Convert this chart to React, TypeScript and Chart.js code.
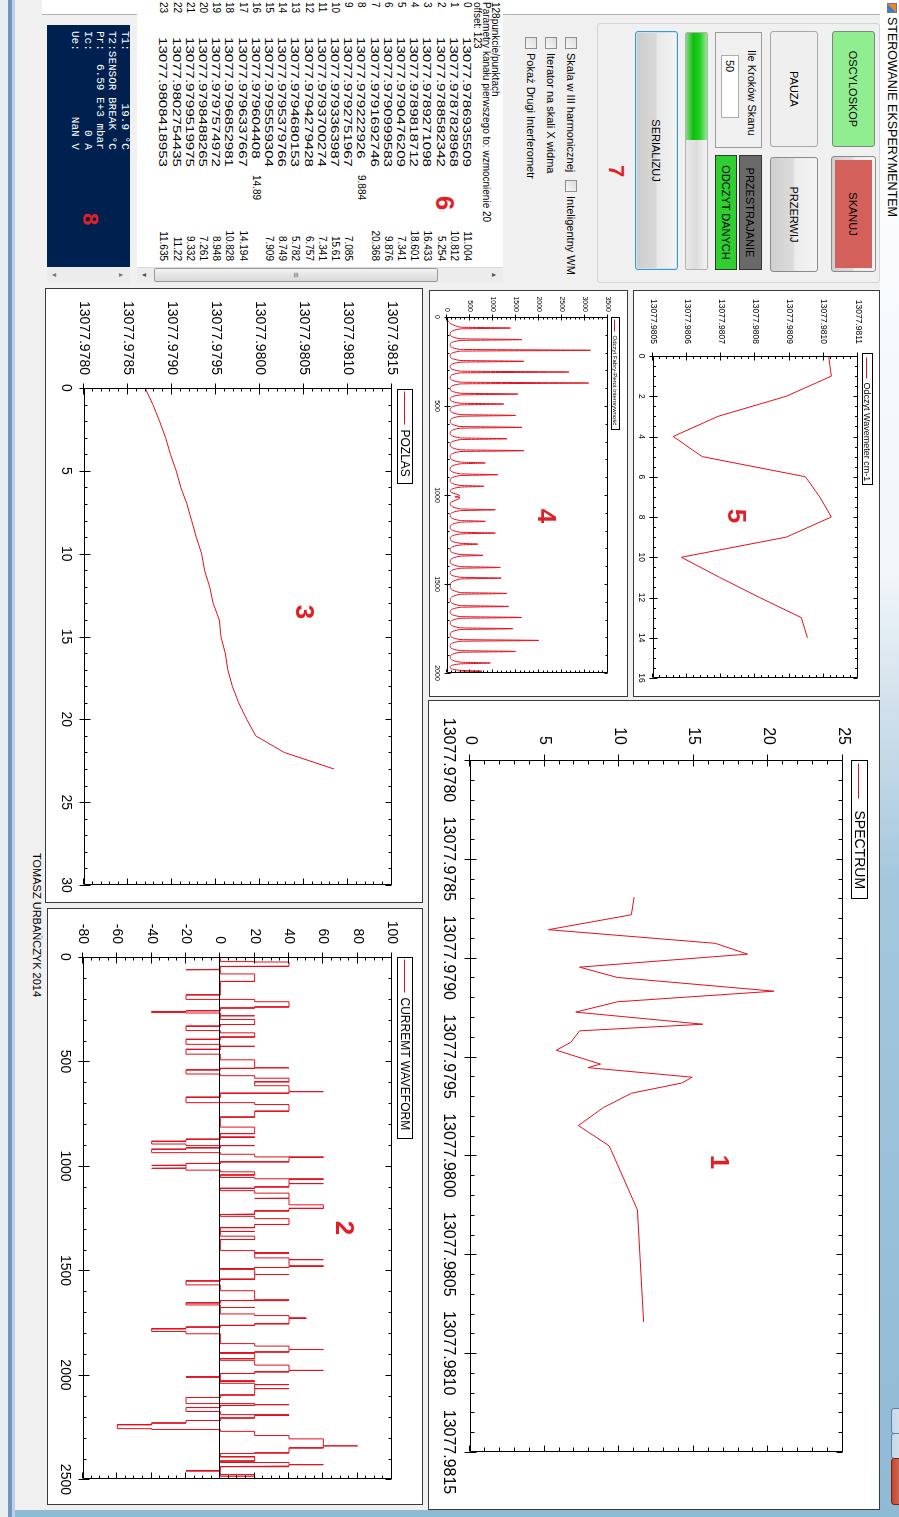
import React, { useEffect, useRef } from 'react';
import { Chart, registerables } from 'chart.js';
Chart.register(...registerables);

const FONT = '"Liberation Sans", Arial, sans-serif';
const MONO = '"Liberation Mono", "DejaVu Sans Mono", monospace';
const LINE_COLOR = '#e3101e';

// ---------------- data ----------------
const WAVENUMBERS = [
  13077.9786935509, 13077.9787828968, 13077.9788582342, 13077.9789271098, 13077.9789818712,
  13077.9790476209, 13077.9790999583, 13077.9791692746, 13077.979222926, 13077.9792751967,
  13077.9793363987, 13077.9793700274, 13077.9794279428, 13077.9794680153, 13077.9795379766,
  13077.9795559304, 13077.979604408, 13077.9796337667, 13077.9796852981, 13077.9797574972,
  13077.9798488265, 13077.9799519975, 13077.9802754435, 13077.9808418953,
];
const INTENSITY = [
  11.004, 10.812, 5.254, 16.433, 18.601, 7.341, 9.876, 20.368, 9.884, 7.085,
  15.61, 7.341, 6.757, 5.782, 8.749, 7.909, 14.89, 14.194, 10.828, 8.948,
  7.261, 9.332, 11.22, 11.635,
];
const WM_VALUES = [
  13077.981014, 13077.981022, 13077.98089, 13077.98069, 13077.980559, 13077.980644,
  13077.980946, 13077.980988, 13077.981022, 13077.98089, 13077.980583, 13077.980695,
  13077.980812, 13077.980934, 13077.980952,
];
const FP_PEAK_X = [62, 127, 187, 249, 309, 371, 433, 489, 553, 620, 684, 751, 820, 886, 951, 1010,
  1083, 1148, 1214, 1276, 1339, 1407, 1467, 1553, 1626, 1688, 1751, 1817, 1879, 1944, 1990];
const FP_PEAK_Y = [1380, 1630, 3120, 1670, 2650, 3080, 1545, 1234, 1490, 1630, 1306, 1670, 835, 1110, 800, 170,
  1050, 835, 1050, 670, 780, 1160, 1180, 1306, 1340, 1620, 1430, 1995, 1490, 940, 760];
const FP_VALLEY_X = [95, 157, 218, 279, 340, 402, 461, 521, 586, 652, 717, 785, 853, 918, 980,
  1046, 1115, 1181, 1245, 1307, 1373, 1437, 1510, 1590, 1657, 1719, 1784, 1848, 1911, 1967];
const FP_FLOOR = 70;
const FP_SHOULDER = 280;
const FP_HALF = 5;

// [sample, level] : the waveform steps to "level" at "sample"
const CURRENT_STEPS: [number, number][] = [
  [0, 0], [22, 20], [24, 40], [42, 40], [44, 20], [46, 0], [59, -20], [62, 0], [81, 20], [117, 0],
  [181, -20], [201, 0], [204, 20], [214, 40], [239, 20], [244, 0], [257, -20], [261, -40], [266, -20], [268, 0],
  [280, 20], [282, 0], [299, 20], [323, 0], [331, -20], [352, 0], [363, 20], [383, 0], [394, -20], [418, 0],
  [426, 20], [428, 0], [442, -20], [465, 0], [492, 20], [529, 40], [531, 20], [533, 0], [540, -20], [560, 0],
  [568, 20], [580, 40], [597, 20], [616, 40], [643, 60], [645, 40], [652, 0], [671, -20], [695, 0],
  [698, 20], [706, 40], [736, 40], [738, 20], [766, 0], [814, 20], [845, 0], [861, 20], [863, 0],
  [872, -20], [882, -40], [895, -20], [901, 0], [902, 20], [904, 0], [913, -20], [920, -40], [935, -20], [937, 0],
  [944, 20], [956, 40], [957, 60], [959, 40], [980, 0], [988, -20], [996, -40], [998, -20], [1010, -40], [1012, -20], [1020, 0],
  [1028, 20], [1043, 0], [1055, 20], [1060, 40], [1062, 60], [1064, 40], [1083, 60], [1085, 40], [1100, 20], [1107, 0],
  [1118, 20], [1130, 40], [1152, 40], [1154, 20], [1156, 40], [1186, 60], [1203, 40], [1215, 20], [1230, 0],
  [1232, 20], [1234, 0], [1241, 20], [1252, 40], [1280, 20], [1295, 0], [1312, 20], [1314, 0], [1336, 20], [1352, 0],
  [1405, 20], [1415, 40], [1417, 20], [1440, 40], [1447, 60], [1449, 40], [1478, 60], [1480, 40], [1486, 20], [1491, 0],
  [1495, 20], [1518, 40], [1520, 20], [1542, 0], [1550, -20], [1569, 0], [1597, 20], [1640, 40], [1642, 20], [1645, 0],
  [1655, -20], [1665, 0], [1676, 20], [1678, 0], [1708, 20], [1716, 40], [1727, 50], [1729, 40], [1755, 20], [1763, 0],
  [1771, -20], [1779, -40], [1792, -20], [1803, 0], [1850, 20], [1862, 40], [1877, 60], [1879, 40], [1890, 20], [1893, 0],
  [1895, 20], [1897, 0], [1898, 20], [1922, 0], [1930, 20], [1953, 40], [1977, 60], [1979, 40], [1985, 20], [1993, 0],
  [2009, -20], [2011, 0], [2028, 20], [2030, 0], [2040, 20], [2045, 40], [2047, 20], [2064, 40], [2066, 20], [2096, 0],
  [2108, -20], [2135, 0], [2138, 20], [2141, 40], [2143, 20], [2146, 0], [2156, -20], [2175, 0],
  [2188, 20], [2191, 40], [2193, 20], [2206, 0], [2218, -20], [2230, -40], [2238, -60], [2257, -40], [2259, -20], [2262, 0],
  [2270, 20], [2290, 40], [2306, 60], [2338, 80], [2340, 60], [2349, 40], [2373, 20], [2376, 0],
  [2389, 20], [2391, 0], [2393, 20], [2412, 0], [2417, 20], [2420, 40], [2428, 60], [2430, 40], [2436, 20], [2440, 0],
  [2458, -20], [2460, 0], [2476, 20], [2478, 0], [2485, 20], [2500, 20],
];

// tick labels
const WAVE_TICKS = [13077.978, 13077.9785, 13077.979, 13077.9795, 13077.98, 13077.9805, 13077.981, 13077.9815];
const SPECTRUM_Y_TICKS = [0, 5, 10, 15, 20, 25];
const POZLAS_X_TICKS = [0, 5, 10, 15, 20, 25, 30];
const CURRENT_X_TICKS = [0, 500, 1000, 1500, 2000, 2500];
const CURRENT_Y_TICKS = [-80, -60, -40, -20, 0, 20, 40, 60, 80, 100];
const FP_X_TICKS = [0, 500, 1000, 1500, 2000];
const FP_Y_TICKS = [0, 500, 1000, 1500, 2000, 2500, 3000, 3500];
const WM_X_TICKS = [0, 2, 4, 6, 8, 10, 12, 14, 16];
const WM_Y_TICKS = [13077.9805, 13077.9806, 13077.9807, 13077.9808, 13077.9809, 13077.981, 13077.9811];

const LIST_HEADER = ['128punkcie/punktach', 'Parametry kanału pierwszego to: wzmocnienie 20', 'offset: 123'];
const SENSOR_LINES: [string, string][] = [
  ['T1:', '19.9 °C'], ['T2:', 'SENSOR BREAK °C'], ['Pr:', '6.59 E+3 mbar'], ['Ic:', '0 A'], ['Ue:', 'NaN V'],
];

// ---------------- chart tables ----------------
const spectrumData = WAVENUMBERS.map((w, i) => ({ x: w, y: INTENSITY[i] }));
const pozlasData = WAVENUMBERS.map((w, i) => ({ x: i, y: w }));
const wmData = WM_VALUES.map((v, i) => ({ x: i, y: v }));
const currentData = (() => {
  const pts: { x: number; y: number }[] = [];
  let prev = CURRENT_STEPS[0][1];
  CURRENT_STEPS.forEach(([s, v], i) => {
    if (i > 0) pts.push({ x: s, y: prev });
    pts.push({ x: s, y: v });
    prev = v;
  });
  return pts;
})();
const fpData = (() => {
  const pts: { x: number; y: number }[] = [{ x: 0, y: 0 }];
  FP_PEAK_X.forEach((px, i) => {
    pts.push({ x: px - FP_HALF, y: FP_SHOULDER });
    pts.push({ x: px, y: FP_PEAK_Y[i] });
    pts.push({ x: px + FP_HALF, y: FP_SHOULDER });
    if (i < FP_VALLEY_X.length) pts.push({ x: FP_VALLEY_X[i], y: FP_FLOOR });
  });
  pts.push({ x: 2000, y: 200 });
  return pts;
})();

interface Spec {
  w: number; h: number; left: number; top: number; right: number; bottom: number;
  font: number; xTicks: number[]; yTicks: number[]; xMinor: number; yMinor: number;
  xFmt: (v: number) => string; yFmt: (v: number) => string; xPad: number; yPad: number;
  tick: { out: number; inn: number; minor: number };
  data: { x: number; y: number }[]; monotone?: boolean; zero?: boolean;
  legend: { text: string; font: number; dx: number; top: number; h: number; l0: number; l1: number; tx: number; padR: number };
}

const f4 = (v: number) => v.toFixed(4);
const fi = (v: number) => String(Math.round(v));

const SPEC1: Spec = {
  w: 810, h: 452, left: 60, top: 37, right: 58, bottom: 42, font: 16,
  xTicks: WAVE_TICKS, yTicks: SPECTRUM_Y_TICKS, xMinor: 0.0001, yMinor: 1, xFmt: f4, yFmt: fi, xPad: 12, yPad: 15,
  tick: { out: 6, inn: 6, minor: 4 }, data: spectrumData,
  legend: { text: 'SPECTRUM', font: 14, dx: 0, top: 12, h: 16, l0: 3, l1: 38, tx: 50, padR: 9 },
};
const SPEC2: Spec = {
  w: 597, h: 376, left: 49, top: 31, right: 22, bottom: 36, font: 14,
  xTicks: CURRENT_X_TICKS, yTicks: CURRENT_Y_TICKS, xMinor: 100, yMinor: 5, xFmt: fi, yFmt: fi, xPad: 10, yPad: 13,
  tick: { out: 5, inn: 6, minor: 3 }, data: currentData, zero: true,
  legend: { text: 'CURREMT WAVEFORM', font: 12, dx: 0, top: 10, h: 15, l0: 2, l1: 35, tx: 40, padR: 8 },
};
const SPEC3: Spec = {
  w: 615, h: 378, left: 100, top: 31, right: 18, bottom: 39, font: 14,
  xTicks: POZLAS_X_TICKS, yTicks: WAVE_TICKS, xMinor: 1, yMinor: 0.0001, xFmt: fi, yFmt: f4, xPad: 10, yPad: 13,
  tick: { out: 5, inn: 6, minor: 3 }, data: pozlasData,
  legend: { text: 'POZLAS', font: 12, dx: 1, top: 10, h: 15, l0: 2, l1: 35, tx: 40, padR: 7 },
};
const SPEC4: Spec = {
  w: 407, h: 199, left: 27, top: 20, right: 24, bottom: 18, font: 7,
  xTicks: FP_X_TICKS, yTicks: FP_Y_TICKS, xMinor: 100, yMinor: 100, xFmt: fi, yFmt: fi, xPad: 6, yPad: 5,
  tick: { out: 3, inn: 3, minor: 2 }, data: fpData, monotone: true,
  legend: { text: 'Odczyt Fabry-Perot intensywność', font: 6, dx: 0, top: 8, h: 8, l0: 2, l1: 14, tx: 18, padR: 4 },
};
const SPEC5: Spec = {
  w: 407, h: 247, left: 66, top: 22, right: 19, bottom: 20, font: 8.5,
  xTicks: WM_X_TICKS, yTicks: WM_Y_TICKS, xMinor: 0.5, yMinor: 0.00002, xFmt: fi, yFmt: f4, xPad: 7, yPad: 12,
  tick: { out: 4, inn: 4, minor: 2.5 }, data: wmData,
  legend: { text: 'Odczyt Wavemeter cm-1', font: 9, dx: -3, top: 7, h: 10, l0: 4, l1: 25, tx: 29, padR: 3 },
};

function minorValues(ticks: number[], step: number) {
  const res: number[] = [];
  for (let i = 0; i < ticks.length - 1; i++) {
    const n = Math.round((ticks[i + 1] - ticks[i]) / step);
    for (let k = 1; k < n; k++) res.push(ticks[i] + ((ticks[i + 1] - ticks[i]) * k) / n);
  }
  return res;
}

function makeZedPlugin(s: Spec) {
  return {
    id: 'zed',
    afterDraw(chart: any) {
      const { ctx, chartArea: a } = chart;
      const xs = chart.scales.x, ys = chart.scales.y;
      const L = Math.round(a.left) + 0.5, R = Math.round(a.right) - 0.5;
      const T = Math.round(a.top) + 0.5, B = Math.round(a.bottom) - 0.5;
      const tk = s.tick;
      ctx.save();
      ctx.strokeStyle = '#000';
      ctx.lineWidth = 1;
      ctx.beginPath();
      if (s.zero) {
        const zy = Math.round(ys.getPixelForValue(0)) + 0.5;
        ctx.moveTo(L, zy); ctx.lineTo(R, zy);
      }
      ctx.rect(L, T, R - L, B - T);
      s.xTicks.forEach((v) => {
        const p = Math.round(xs.getPixelForValue(v)) + 0.5;
        ctx.moveTo(p, B + tk.out); ctx.lineTo(p, B - tk.inn);
        ctx.moveTo(p, T); ctx.lineTo(p, T + tk.inn);
      });
      s.yTicks.forEach((v) => {
        const p = Math.round(ys.getPixelForValue(v)) + 0.5;
        ctx.moveTo(L - tk.out, p); ctx.lineTo(L + tk.inn, p);
        ctx.moveTo(R, p); ctx.lineTo(R - tk.inn, p);
      });
      minorValues(s.xTicks, s.xMinor).forEach((v) => {
        const p = Math.round(xs.getPixelForValue(v)) + 0.5;
        ctx.moveTo(p, B); ctx.lineTo(p, B - tk.minor);
        ctx.moveTo(p, T); ctx.lineTo(p, T + tk.minor);
      });
      minorValues(s.yTicks, s.yMinor).forEach((v) => {
        const p = Math.round(ys.getPixelForValue(v)) + 0.5;
        ctx.moveTo(L, p); ctx.lineTo(L + tk.minor, p);
        ctx.moveTo(R, p); ctx.lineTo(R - tk.minor, p);
      });
      ctx.stroke();
      // legend
      const lg = s.legend;
      ctx.font = `${lg.font}px ${FONT}`;
      const tw = ctx.measureText(lg.text).width;
      const bx = Math.round(a.left + lg.dx) + 0.5, by = lg.top + 0.5;
      const bw = Math.round(lg.tx + tw + lg.padR), bh = lg.h;
      ctx.fillStyle = '#fff';
      ctx.fillRect(bx, by, bw, bh);
      ctx.strokeRect(bx, by, bw, bh);
      ctx.beginPath();
      ctx.strokeStyle = LINE_COLOR;
      const ly = Math.round(by + bh / 2) + 0.5;
      ctx.moveTo(bx + lg.l0, ly); ctx.lineTo(bx + lg.l1, ly);
      ctx.stroke();
      ctx.fillStyle = '#000';
      ctx.textBaseline = 'middle';
      ctx.textAlign = 'left';
      ctx.fillText(lg.text, bx + lg.tx, by + bh / 2 + 1);
      ctx.restore();
    },
  };
}

function buildConfig(s: Spec): any {
  const tickFont = { family: FONT, size: s.font };
  const axis = (ticks: number[], pad: number, fmt: (v: number) => string, fit: (sc: any) => void) => ({
    type: 'linear',
    min: ticks[0],
    max: ticks[ticks.length - 1],
    grid: { display: false, drawTicks: false },
    border: { display: false },
    ticks: {
      font: tickFont, color: '#000', padding: pad, maxRotation: 0, minRotation: 0, autoSkip: false,
      callback: (v: any) => fmt(Number(v)),
    },
    afterBuildTicks: (sc: any) => { sc.ticks = ticks.map((v) => ({ value: v })); },
    afterFit: fit,
  });
  return {
    type: 'line',
    data: {
      datasets: [{
        data: s.data, borderColor: LINE_COLOR, borderWidth: 1, pointRadius: 0, pointHoverRadius: 0,
        fill: false, tension: 0, cubicInterpolationMode: s.monotone ? 'monotone' : 'default',
      }],
    },
    options: {
      animation: false, responsive: false, devicePixelRatio: 1, events: [],
      layout: { padding: { left: 0, top: s.top, right: s.right, bottom: 0 } },
      plugins: { legend: { display: false }, tooltip: { enabled: false } },
      scales: {
        x: axis(s.xTicks, s.xPad, s.xFmt, (sc: any) => { sc.height = s.bottom; }),
        y: axis(s.yTicks, s.yPad, s.yFmt, (sc: any) => { sc.width = s.left; }),
      },
    },
    plugins: [makeZedPlugin(s)],
  };
}

function ZedChart({ spec, left, top }: { spec: Spec; left: number; top: number }) {
  const ref = useRef<HTMLCanvasElement | null>(null);
  useEffect(() => {
    const c = new Chart(ref.current as HTMLCanvasElement, buildConfig(spec));
    return () => c.destroy();
  }, [spec]);
  return (
    <div style={{ position: 'absolute', left, top, width: spec.w, height: spec.h, background: '#fff' }}>
      <canvas ref={ref} width={spec.w} height={spec.h} style={{ display: 'block', width: spec.w, height: spec.h }} />
      <div style={{ position: 'absolute', left: 0, top: 0, right: 0, bottom: 0, border: '1px solid #3a3a3a' }} />
    </div>
  );
}

// ---------------- UI helpers ----------------
const abs = (l: number, t: number, w: number, h: number, extra: React.CSSProperties = {}): React.CSSProperties => ({
  position: 'absolute', left: l, top: t, width: w, height: h, boxSizing: 'border-box', ...extra,
});
const BTN_GRAD = 'linear-gradient(to bottom, #f4f4f4 0%, #ececec 48%, #dcdcdc 52%, #cfcfcf 100%)';
const center: React.CSSProperties = { display: 'flex', alignItems: 'center', justifyContent: 'center' };

function Check({ l, t, label }: { l: number; t: number; label: string }) {
  return (
    <>
      <div style={abs(l, t, 12, 12, { border: '1px solid #8e8f8f', background: 'linear-gradient(to bottom right, #dcdcdc, #f8f8f8)' })} />
      <div style={abs(l + 16, t - 2, 200, 16, { lineHeight: '16px', fontSize: 11, whiteSpace: 'nowrap' })}>{label}</div>
    </>
  );
}

function Digit({ u, v, ch, size = 26 }: { u: number; v: number; ch: string; size?: number }) {
  return (
    <div style={{ position: 'absolute', left: u - 20, top: v - 20, width: 40, height: 40, ...center, color: '#e41e26', fontWeight: 'bold', fontSize: size, fontFamily: FONT }}>
      {ch}
    </div>
  );
}

export default function App() {
  const rowTop = (i: number) => 432 + 13.2 * i;
  return (
    <div style={{ position: 'fixed', left: 0, top: 0, width: 899, height: 1517, overflow: 'hidden', background: '#fff' }}>
      <div style={{ position: 'absolute', left: 0, top: 0, width: 1517, height: 899, transformOrigin: '0 0', transform: 'translateX(899px) rotate(90deg)', background: '#f0f0f0', fontFamily: FONT, fontSize: 11, color: '#000', overflow: 'hidden' }}>
        {/* title bar */}
        <div style={abs(0, 0, 1517, 19, { background: 'linear-gradient(to right, #ffffff 0%, #f1f6fa 38%, #cfe0ec 47%, #a4c7dd 58%, #8fbad6 100%)' })} />
        <div style={abs(3, 2, 10, 10, { background: 'linear-gradient(135deg, #e8862a 0 50%, #3a7bd5 50% 100%)', border: '1px solid #777' })} />
        <div style={abs(17, 0, 300, 14, { fontSize: 12.5, lineHeight: '14px', whiteSpace: 'nowrap' })}>STEROWANIE EKSPERYMENTEM</div>
        <div style={abs(1408, -14, 26, 22, { background: 'linear-gradient(to bottom, #e9f1f7, #c3d7e7)', border: '1px solid #5f7f9f', borderRadius: 3 })} />
        <div style={abs(1433, -14, 26, 22, { background: 'linear-gradient(to bottom, #e9f1f7, #c3d7e7)', border: '1px solid #5f7f9f', borderRadius: 3 })} />
        <div style={abs(1458, -14, 47, 22, { background: 'linear-gradient(to bottom, #e8a493, #c5452b)', border: '1px solid #6d2414', borderRadius: 3 })} />
        {/* window borders */}
        <div style={abs(1510, 19, 7, 880, { background: '#8fbad6' })} />
        <div style={abs(0, 884, 1517, 4, { background: '#b9d1ea' })} />
        <div style={abs(0, 887, 1517, 4, { background: '#7395c0' })} />
        <div style={abs(0, 891, 1517, 8, { background: '#e9eef3' })} />
        {/* white strip / separator */}
        <div style={abs(0, 19, 15, 838, { background: '#fff' })} />
        <div style={abs(14, 19, 1, 838, { background: '#b4b4b4' })} />
        {/* status text */}
        <div style={abs(853, 856, 200, 12, { fontSize: 11, lineHeight: '12px', whiteSpace: 'nowrap' })}>TOMASZ URBAŃCZYK 2014</div>

        {/* group 7 controls */}
        <div style={abs(23, 19, 260, 283, { border: '1px solid #d0d7dc', borderRadius: 3 })} />
        <div style={abs(31, 24, 116, 43, { ...center, background: '#90ee90', border: '1px solid #7a8a7a', borderRadius: 3 })}>OSCYLOSKOP</div>
        <div style={abs(156, 23, 116, 45, { background: BTN_GRAD, border: '1px solid #8a8a8a', borderRadius: 3 })} />
        <div style={abs(160, 27, 108, 37, { ...center, background: '#d4605b' })}>SKANUJ</div>
        <div style={abs(31, 81, 116, 48, { ...center, background: '#efefef', border: '1px solid #a8a8a8', borderRadius: 3 })}>PAUZA</div>
        <div style={abs(157, 81, 115, 48, { ...center, background: BTN_GRAD, border: '1px solid #8a8a8a', borderRadius: 3 })}>PRZERWIJ</div>
        <div style={abs(32, 137, 116, 47, { border: '1px solid #9a9a9a' })} />
        <div style={abs(50, 141, 95, 13, { fontSize: 11, lineHeight: '13px', whiteSpace: 'nowrap' })}>Ile Kroków Skanu</div>
        <div style={abs(55, 160, 63, 18, { background: '#fff', border: '1px solid #abadb3', paddingLeft: 4, lineHeight: '16px' })}>50</div>
        <div style={abs(155, 137, 115, 23, { ...center, background: '#696969', border: '1px solid #333' })}>PRZESTRAJANIE</div>
        <div style={abs(155, 162, 115, 22, { ...center, background: '#2fcf2f', border: '1px solid #333' })}>ODCZYT DANYCH</div>
        <div style={abs(32, 191, 238, 23, { background: 'linear-gradient(to bottom, #f3f3f3, #dcdcdc 50%, #e8e8e8)', border: '1px solid #b2b2b2', borderRadius: 2 })} />
        <div style={abs(33, 192, 107, 21, { background: 'linear-gradient(to bottom, #9ae59a 0%, #1fd11f 35%, #10bb10 65%, #85dd85 100%)' })} />
        <div style={abs(31, 221, 239, 43, { ...center, background: 'linear-gradient(to bottom, #f3f3f3 0%, #e8e8e8 48%, #d8d8d8 52%, #cdcdcd 100%)', border: '1px solid #3c9ac9', borderRadius: 3, boxShadow: 'inset 0 0 0 1px #c4e5f6' })}>SERIALIZUJ</div>

        {/* checkboxes */}
        <Check l={37} t={322} label="Skala w III harmonicznej" />
        <Check l={180} t={322} label="Inteligentny WM" />
        <Check l={37} t={342} label="Iterator na skali X widma" />
        <Check l={37} t={362} label="Pokaż Drugi Interferometr" />

        {/* list box */}
        <div style={abs(0, 396, 283, 366, { background: '#fff' })} />
        {LIST_HEADER.map((t, i) => (
          <div key={'h' + i} style={abs(2, [398, 407, 416][i], 280, 12, { fontSize: 10, lineHeight: '12px', whiteSpace: 'nowrap' })}>{t}</div>
        ))}
        {WAVENUMBERS.map((w, i) => {
          const ws = String(w);
          const mid = ws.length < 16;
          const top = rowTop(i) - 6;
          return (
            <React.Fragment key={'r' + i}>
              <div style={abs(2, top, 20, 12, { fontSize: 10, lineHeight: '12px' })}>{i}</div>
              <div style={abs(37, top, 100, 12, { fontSize: 11, lineHeight: '12px', whiteSpace: 'nowrap', transform: 'scaleX(1.37)', transformOrigin: '0 0' })}>{ws}</div>
              {mid ? (
                <div style={abs(175, top, 40, 12, { fontSize: 10, lineHeight: '12px' })}>{INTENSITY[i]}</div>
              ) : (
                <div style={abs(211, top, 50, 12, { fontSize: 10, lineHeight: '12px', textAlign: 'right' })}>{INTENSITY[i]}</div>
              )}
            </React.Fragment>
          );
        })}
        {/* list scrollbar */}
        <div style={abs(267, 396, 16, 366, { background: '#ececec', borderLeft: '1px solid #dadada' })} />
        <div style={abs(267, 396, 16, 16, { ...center, fontSize: 7, color: '#555' })}>▲</div>
        <div style={abs(267, 746, 16, 16, { ...center, fontSize: 7, color: '#555' })}>▼</div>
        <div style={abs(268, 461, 14, 284, { ...center, background: 'linear-gradient(to right, #f2f2f2, #d9d9d9)', border: '1px solid #9a9a9a', borderRadius: 2, fontSize: 9, color: '#666' })}>≡</div>

        {/* sensor box 8 */}
        <div style={abs(25, 769, 242, 83, { background: '#00214f' })} />
        {SENSOR_LINES.map(([k, v], i) => (
          <div key={'s' + i} style={abs(31, [774, 787, 799, 811, 824][i] - 6, 140, 12, { fontFamily: MONO, fontSize: 11, lineHeight: '12px', color: '#fff', whiteSpace: 'pre' })}>
            {k + v.padStart(15, ' ')}
          </div>
        ))}
        <div style={abs(267, 769, 16, 83, { background: '#ececec' })} />
        <div style={abs(267, 770, 16, 14, { ...center, fontSize: 7, color: '#777' })}>▲</div>
        <div style={abs(267, 837, 16, 14, { ...center, fontSize: 7, color: '#777' })}>▼</div>

        {/* charts */}
        <ZedChart spec={SPEC5} left={290} top={19} />
        <ZedChart spec={SPEC4} left={290} top={271} />
        <ZedChart spec={SPEC1} left={700} top={19} />
        <ZedChart spec={SPEC3} left={288} top={476} />
        <ZedChart spec={SPEC2} left={908} top={476} />

        {/* annotation numbers */}
        <Digit u={1162} v={179} ch="1" />
        <Digit u={1228} v={554} ch="2" />
        <Digit u={612} v={594} ch="3" />
        <Digit u={516} v={352} ch="4" />
        <Digit u={516} v={162} ch="5" />
        <Digit u={203} v={454} ch="6" />
        <Digit u={171} v={283} ch="7" size={22} />
        <Digit u={219} v={809} ch="8" size={22} />
      </div>
    </div>
  );
}
